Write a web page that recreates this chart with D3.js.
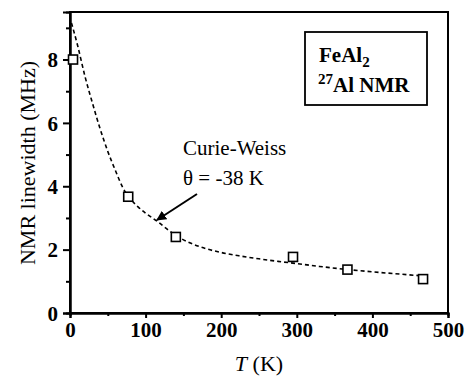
<!DOCTYPE html>
<html>
<head>
<meta charset="utf-8">
<script src="https://cdn.jsdelivr.net/npm/d3@7"></script>
</head>
<body style="margin:0;padding:0;background:#fff">
<svg id="chart" width="467" height="376" style="display:block"></svg>
<script>
// Measured data points (T in K, linewidth in MHz)
const tempK = [4, 77, 140, 295, 367, 467];
const linewidth = [8.0, 3.67, 2.4, 1.77, 1.37, 1.07];

// Curie-Weiss fit curve
const fitT = [2, 10, 20, 30, 40, 50, 60, 70, 80, 90, 100, 115, 130, 140, 160, 180, 200, 225, 250, 275, 300, 330, 360, 400, 430, 467];
const fitW = [9.15, 8.45, 7.45, 6.6, 5.8, 5.1, 4.5, 3.95, 3.6, 3.35, 3.15, 2.9, 2.62, 2.45, 2.2, 2.03, 1.91, 1.8, 1.71, 1.63, 1.56, 1.47, 1.39, 1.3, 1.24, 1.17];

const xTicks = [0, 100, 200, 300, 400, 500];
const xMinor = [50, 150, 250, 350, 450];
const yTicks = [0, 2, 4, 6, 8];
const yMinor = [1, 3, 5, 7, 9];

const FONT = '"Liberation Serif"';

const svg = d3.select("#chart");
const L = 70, R = 448, T = 12, B = 313;

const x = d3.scaleLinear().domain([0, 500]).range([L, R]);
const y = d3.scaleLinear().domain([0, 9.5]).range([B, T]);

// Fit curve (dashed)
const line = d3.line()
  .x((d, i) => x(fitT[i]))
  .y((d, i) => y(fitW[i]))
  .curve(d3.curveMonotoneX);
svg.append("path")
  .datum(fitT)
  .attr("d", line)
  .attr("fill", "none")
  .attr("stroke", "#000")
  .attr("stroke-width", 1.6)
  .attr("stroke-dasharray", "4,3");

// Frame
svg.append("rect")
  .attr("x", L).attr("y", T)
  .attr("width", R - L).attr("height", B - T)
  .attr("fill", "none").attr("stroke", "#000").attr("stroke-width", 2);

// Axes
const xAxis = d3.axisBottom(x).tickValues(xTicks).tickSize(5).tickPadding(4).tickFormat(d3.format("d"));
const gx = svg.append("g").attr("transform", `translate(0,${B})`).call(xAxis);
const gxm = svg.append("g").attr("transform", `translate(0,${B})`)
  .call(d3.axisBottom(x).tickValues(xMinor).tickSize(3).tickFormat(""));
const yAxis = d3.axisLeft(y).tickValues(yTicks).tickSize(7).tickPadding(5).tickFormat(d3.format("d"));
const gy = svg.append("g").attr("transform", `translate(${L},0)`).call(yAxis);
const gym = svg.append("g").attr("transform", `translate(${L},0)`)
  .call(d3.axisLeft(y).tickValues(yMinor).tickSize(4).tickFormat(""));

[gx, gxm, gy, gym].forEach(g => {
  g.attr("font-family", null).attr("font-size", null);
  g.select(".domain").attr("stroke", "#000").attr("stroke-width", 2);
  g.selectAll(".tick line").attr("stroke", "#000").attr("stroke-width", 2);
  g.selectAll(".tick text")
    .style("font-family", FONT)
    .style("font-size", "21px").style("font-weight", "bold").attr("fill", "#000");
});
gx.selectAll(".tick text").attr("dy", "0.72em");
gy.selectAll(".tick text").attr("dy", "0.34em");

// Data markers
const s = 9;
svg.append("g").selectAll("rect")
  .data(tempK)
  .join("rect")
  .attr("x", (d) => x(d) - s / 2)
  .attr("y", (d, i) => y(linewidth[i]) - s / 2)
  .attr("width", s).attr("height", s)
  .attr("fill", "#fff").attr("stroke", "#000").attr("stroke-width", 1.6);

function txt(xp, yp, size, bold) {
  return svg.append("text").attr("x", xp).attr("y", yp)
    .style("font-family", FONT).style("font-size", size + "px")
    .style("font-weight", bold ? "bold" : "normal").attr("fill", "#000");
}

// Axis titles
const xt = txt((L + R) / 2, 371, 22, false).attr("text-anchor", "middle");
xt.append("tspan").style("font-style", "italic").text("T");
xt.append("tspan").text(" (K)");

txt(0, 0, 22, false)
  .attr("transform", "translate(35,163) rotate(-90)")
  .attr("text-anchor", "middle")
  .text("NMR linewidth (MHz)");

// Legend box
svg.append("rect")
  .attr("x", 305).attr("y", 32).attr("width", 122).attr("height", 73)
  .attr("fill", "#fff").attr("stroke", "#000").attr("stroke-width", 1.8);
const t1 = txt(319, 62, 21, true);
t1.append("tspan").text("FeAl");
t1.append("tspan").attr("dy", 5).style("font-size", "15px").text("2");
const t2 = txt(318, 92, 21, true);
t2.append("tspan").attr("dy", -8).style("font-size", "15px").text("27");
t2.append("tspan").attr("dy", 8).text("Al NMR");

// Annotation
txt(183, 155, 21, false).text("Curie-Weiss");
txt(183, 185, 21, false).text("θ = -38 K");

svg.append("defs").append("marker")
  .attr("id", "arrow").attr("viewBox", "0 0 10 10")
  .attr("refX", 9).attr("refY", 5)
  .attr("markerWidth", 5).attr("markerHeight", 5)
  .attr("markerUnits", "strokeWidth")
  .attr("orient", "auto")
  .append("path").attr("d", "M0,0 L10,5 L0,10 Z").attr("fill", "#000");
svg.append("line")
  .attr("x1", 197).attr("y1", 194).attr("x2", 157).attr("y2", 220)
  .attr("stroke", "#000").attr("stroke-width", 2)
  .attr("marker-end", "url(#arrow)");
</script>
</body>
</html>
